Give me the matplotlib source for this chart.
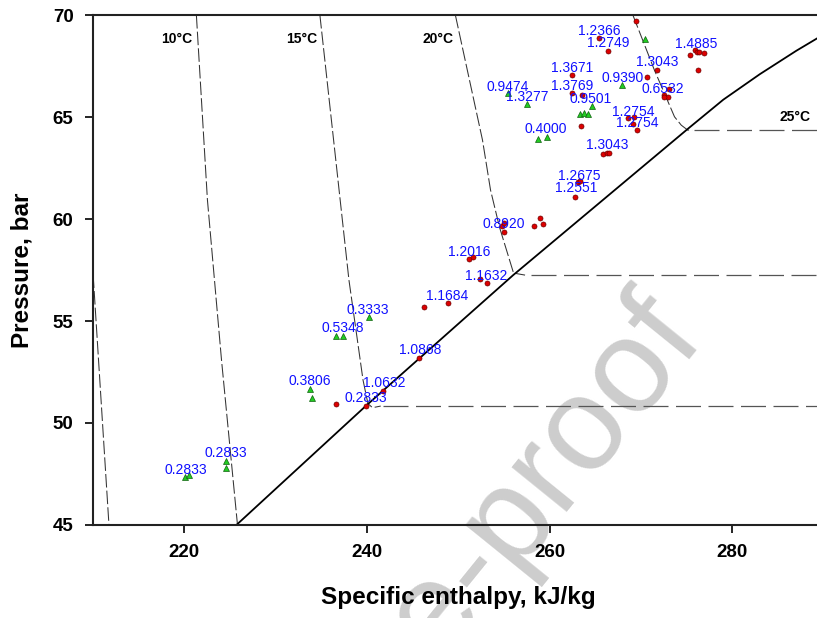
import numpy as np
from matplotlib import pyplot as plt

# measured states (enthalpy kJ/kg, pressure bar)
red_h = [269.45, 265.38, 266.37, 262.42, 270.66, 271.76, 262.42, 263.52, 273.08, 272.53,
         272.97, 272.47, 275.38, 275.93, 276.15, 276.37, 276.92, 276.26, 263.41, 269.20,
         269.09, 269.53, 268.54, 265.79, 266.26, 266.52, 263.08, 263.26, 262.78, 254.80,
         254.98, 254.98, 258.27, 258.90, 259.31, 251.13, 251.62, 252.42, 253.08, 246.26,
         248.82, 245.71, 241.79, 239.89, 236.59]
red_p = [69.72, 68.86, 68.25, 67.04, 66.95, 67.30, 66.19, 66.08, 66.36, 66.08,
         66.00, 65.98, 68.04, 68.28, 68.19, 68.19, 68.15, 67.29, 64.57, 64.99,
         64.64, 64.36, 64.94, 63.19, 63.25, 63.22, 61.81, 61.86, 61.09, 59.67,
         59.79, 59.38, 59.67, 60.06, 59.77, 58.04, 58.12, 57.04, 56.85, 55.67,
         55.87, 53.20, 51.58, 50.85, 50.93]

green_h = [270.44, 267.91, 264.62, 257.47, 255.38, 263.30, 263.79, 264.18, 258.76, 259.67,
           240.25, 236.59, 237.33, 233.74, 233.99, 224.51, 224.51, 220.08, 220.55]
green_p = [68.81, 66.55, 65.54, 65.64, 66.18, 65.17, 65.21, 65.15, 63.92, 64.03,
           55.21, 54.28, 54.28, 51.67, 51.24, 48.16, 47.78, 47.34, 47.45]

# annotation values and where they sit
ann_text = ['1.2366', '1.2749', '1.4885', '1.3671', '1.3043', '0.9390', '0.9474', '1.3769',
            '0.6532', '1.3277', '0.9501', '1.2754', '1.2754', '0.4000', '1.3043', '1.2675',
            '1.2551', '0.8920', '1.2016', '1.1632', '1.1684', '0.3333', '0.5348', '1.0868',
            '0.3806', '1.0632', '0.2833', '0.2833', '0.2833']
ann_h = [265.44, 266.43, 276.04, 262.42, 271.76, 267.97, 255.38, 262.42,
         272.42, 257.58, 264.51, 269.12, 269.56, 259.56, 266.26, 263.19,
         262.86, 254.95, 251.21, 253.08, 248.79, 240.11, 237.36, 245.82,
         233.74, 241.87, 239.89, 224.51, 220.11]
ann_p = [69.22, 68.63, 68.58, 67.40, 67.70, 66.91, 66.47, 66.52,
         66.37, 65.98, 65.88, 65.25, 64.71, 64.41, 63.63, 62.11,
         61.52, 59.75, 58.38, 57.21, 56.23, 55.54, 54.66, 53.58,
         52.06, 51.96, 51.23, 48.53, 47.70]

# saturation line
sat_h = [225.7, 239.9, 256.0, 275.2, 279.0, 283.0, 287.0, 290.0]
sat_p = [45.0, 50.85, 57.25, 64.45, 65.85, 67.1, 68.25, 69.05]

# isotherms: steep (liquid-side) branch
iso_05_h = [209.9, 211.75]
iso_05_p = [58.1, 45.0]
iso_10_h = [221.32, 222.53, 224.07, 225.82]
iso_10_p = [70.0, 60.93, 53.09, 45.0]
iso_15_h = [234.84, 238.02, 239.56, 240.1, 240.6, 241.5]
iso_15_p = [70.0, 57.01, 52.11, 50.95, 50.75, 50.83]
iso_20_h = [249.67, 252.64, 253.52, 254.5, 256.04, 257.3]
iso_20_p = [70.0, 63.87, 61.42, 59.6, 57.35, 57.25]
iso_25_h = [269.1, 271.46, 273.66, 274.4, 275.1, 275.6]
iso_25_p = [70.0, 67.3, 65.01, 64.6, 64.36, 64.36]
# isotherms: flat branch (start enthalpy, pressure)
flat_h0 = [241.8, 257.9, 275.8]
flat_p = [50.83, 57.25, 64.36]

iso_labels = ['10°C', '15°C', '20°C', '25°C']
iso_label_h = [219.2, 232.9, 247.8, 286.8]
iso_label_p = [68.8, 68.8, 68.8, 65.0]


def main():
    plt.rcParams['font.family'] = ['Liberation Sans', 'DejaVu Sans']
    fig = plt.figure(figsize=(8.17, 6.18), dpi=100)

    # watermark behind everything
    fig.text(0.865, 0.45, 'Journal Pre-proof', fontsize=96, color='#cdcdcd',
             rotation=51, ha='right', va='baseline', rotation_mode='anchor', zorder=-1)

    ax = fig.add_axes([0.1138, 0.1505, 0.8945, 0.8252])
    ax.patch.set_alpha(0)

    # isotherms
    for h, p in [(iso_05_h, iso_05_p), (iso_10_h, iso_10_p), (iso_15_h, iso_15_p),
                 (iso_20_h, iso_20_p), (iso_25_h, iso_25_p)]:
        ax.plot(h, p, color='#333333', lw=0.75, dashes=(13, 3))
    for h0, p in zip(flat_h0, flat_p):
        ax.plot([h0, 290], [p, p], color='#555555', lw=0.9, dashes=(20, 6))
    # saturation line
    ax.plot(sat_h, sat_p, color='black', lw=1.3)

    for t, h, p in zip(iso_labels, iso_label_h, iso_label_p):
        ax.text(h, p, t, fontsize=10, fontweight='bold', ha='center', va='center')

    ax.plot(red_h, red_p, 'o', ms=3.6, mfc='#dd0000', mec='#700000', mew=0.5, zorder=4)
    ax.plot(green_h, green_p, '^', ms=4, mfc='#22cc22', mec='#106010', mew=0.5, zorder=4)

    for t, h, p in zip(ann_text, ann_h, ann_p):
        ax.text(h, p, t, fontsize=10, color='#1010ff', ha='center', va='center', zorder=5)

    ax.set_xlim(210, 290)
    ax.set_ylim(45, 70)
    ax.set_xticks([220, 240, 260, 280])
    ax.set_yticks([45, 50, 55, 60, 65, 70])
    for s in ax.spines.values():
        s.set_linewidth(1.5)
        s.set_color('#222222')
    ax.tick_params(direction='out', length=6, width=1.2, labelsize=13.5, pad=8)
    for lab in ax.get_xticklabels() + ax.get_yticklabels():
        lab.set_fontweight('bold')
    ax.set_xlabel('Specific enthalpy, kJ/kg', fontsize=17.5, fontweight='bold', labelpad=18)
    ax.set_ylabel('Pressure, bar', fontsize=17.5, fontweight='bold', labelpad=14)

    fig.savefig('out.png', dpi=100)


if __name__ == '__main__':
    main()
